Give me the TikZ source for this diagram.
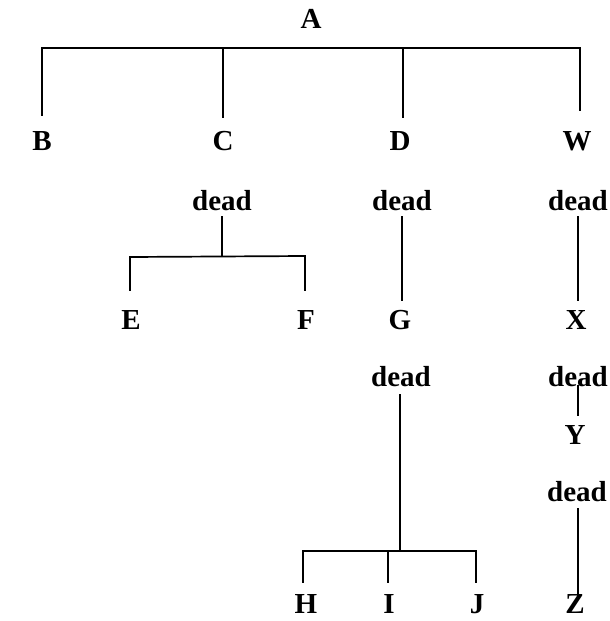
\documentclass[tikz,border=0pt]{standalone}
\usepackage{fontspec}
\setmainfont{Liberation Serif}
\begin{document}
\begin{tikzpicture}[x=1pt,y=-1pt,
  lbl/.style={inner sep=0pt,font=\fontsize{29}{29}\selectfont\bfseries},
  edge/.style={line width=1.7pt,line cap=rect}]
\useasboundingbox (0,0) rectangle (610,621);
% labels
\node[lbl] (A) at (311,19) {A};
\node[lbl] (B) at (42,141) {B};
\node[lbl] (C) at (223,141) {C};
\node[lbl] (D) at (400,141) {D};
\node[lbl] (W) at (577,141) {W};
\node[lbl] (d1) at (222,201) {dead};
\node[lbl] (d2) at (402,201) {dead};
\node[lbl] (d3) at (578,201) {dead};
\node[lbl] (E) at (131,320) {E};
\node[lbl] (F) at (306,320) {F};
\node[lbl] (G) at (400,320) {G};
\node[lbl] (X) at (576,320) {X};
\node[lbl] (d4) at (401,377) {dead};
\node[lbl] (d5) at (578,377) {dead};
\node[lbl] (Y) at (575,435) {Y};
\node[lbl] (d6) at (577,492) {dead};
\node[lbl] (H) at (306,604) {H};
\node[lbl] (I) at (389,604) {I};
\node[lbl] (J) at (477,604) {J};
\node[lbl] (Z) at (575,604) {Z};
% top bar
\coordinate (tl) at (42,48);
\coordinate (tr) at (580,48);
\draw[edge] (tl) -- (tr);
\draw[edge] (tl) -- (42,115);
\draw[edge] (223,48) -- (223,117);
\draw[edge] (403,48) -- (403,117);
\draw[edge] (tr) -- (580,110);
% C subtree
\coordinate (cb) at (222,256);
\draw[edge] (222,217) -- (cb);
\draw[edge] (130,290) -- (130,257) -- (305,256) -- (305,290);
% D subtree
\draw[edge] (402,217) -- (402,300);
% W subtree
\draw[edge] (578,217) -- (578,300);
% G subtree
\coordinate (gb) at (400,551);
\draw[edge] (400,395) -- (gb);
\draw[edge] (303,582) -- (303,551) -- (476,551) -- (476,582);
\draw[edge] (388,551) -- (388,582);
% X subtree
\draw[edge] (578,386) -- (578,415);
\draw[edge] (578,509) -- (578,595);
\end{tikzpicture}
\end{document}
